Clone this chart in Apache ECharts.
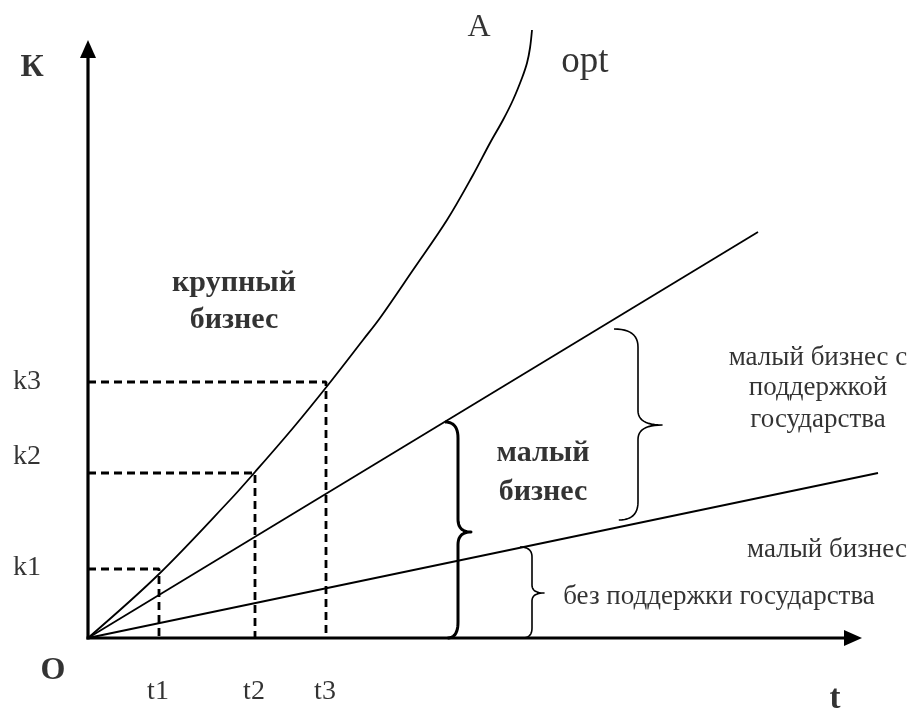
<!DOCTYPE html>
<html><head><meta charset="utf-8">
<script src="https://cdn.jsdelivr.net/npm/echarts/dist/echarts.min.js"></script>
<style>html,body{margin:0;padding:0;background:#fff}#c{width:911px;height:711px}</style>
</head><body><div id="c"></div>
<script>
// Curve A ("opt"): time t vs capital K
const curveT = [0, 70, 142, 167, 205, 240, 275, 292, 325, 359, 385, 402, 415, 425, 434, 439, 442, 444];
const curveK = [0, 63, 138, 166, 210, 253, 298, 320, 368, 418, 463, 495, 518, 538, 560, 575, 590, 608];
// straight lines: small business with / without state support
const supportT = [0, 670];
const supportK = [0, 406];
const noSupportT = [0, 790];
const noSupportK = [0, 165];
// dashed guides
const tTicks = [71, 167, 238];
const kTicks = [69, 165, 256];
const tLabels = ['t1', 't2', 't3'];
const kLabels = ['k1', 'k2', 'k3'];
const kLabelK = [70, 181, 256];
// axes ends
const axisEnds = [[0, 0, 774, 0], [0, 0, 0, 598]];
// braces: [x, top, tip, bottom]
const braces = [[370, 216, 106, 0], [550, 309, 213, 118], [444, 91, 45, 0]];
// annotation texts
const noteText = ['К', 'A', 'opt', 'крупный', 'бизнес', 'O', 't', 'малый', 'бизнес',
  'малый бизнес с', 'поддержкой', 'государства', 'малый бизнес', 'без поддержки государства'];
const noteT = [-56, 391, 497, 146, 146, -35, 747, 455, 455, 730, 730, 730, 739, 631];
const noteK = [570, 610, 576, 355, 318, -33, -61, 185, 146, 280, 250, 218, 88, 41];
const noteBold = [true, false, false, true, true, true, true, true, true, false, false, false, false, false];
const noteSize = [32, 32, 37, 30, 30, 32, 33, 30, 30, 27, 27, 27, 27, 27];

const FONT = 'Liberation Serif';
const braceStyle = [{h: 13, r: 16, w: 3}, {h: 24, r: 18, w: 1.6}, {h: 12, r: 10, w: 1.6}];

function quad(p0, c, p1, n) {
  const pts = [];
  for (let i = 0; i <= n; i++) {
    const s = i / n, a = (1 - s) * (1 - s), b = 2 * (1 - s) * s, d = s * s;
    pts.push([a * p0[0] + b * c[0] + d * p1[0], a * p0[1] + b * c[1] + d * p1[1]]);
  }
  return pts;
}

function axisItem(params, api) {
  const p0 = api.coord([api.value(0), api.value(1)]);
  const p1 = api.coord([api.value(2), api.value(3)]);
  const dx = p1[0] - p0[0], dy = p1[1] - p0[1];
  const L = Math.hypot(dx, dy), ux = dx / L, uy = dy / L;
  const len = 18, hw = 8;
  const base = [p1[0] - ux * len, p1[1] - uy * len];
  return {type: 'group', children: [
    {type: 'line', shape: {x1: p0[0] - ux * 1.5, y1: p0[1] - uy * 1.5, x2: base[0] + ux * 2, y2: base[1] + uy * 2}, style: {stroke: '#000', lineWidth: 3.2}},
    {type: 'polygon', shape: {points: [p1, [base[0] - uy * hw, base[1] + ux * hw], [base[0] + uy * hw, base[1] - ux * hw]]}, style: {fill: '#000'}}
  ]};
}

function braceItem(params, api) {
  const x = api.coord([api.value(0), 0])[0];
  const top = api.coord([0, api.value(1)])[1];
  const tip = api.coord([0, api.value(2)])[1];
  const bot = api.coord([0, api.value(3)])[1];
  const s = braceStyle[params.dataIndex];
  const h = s.h, r = s.r, n = 12;
  let pts = [];
  pts = pts.concat(quad([x - h, top], [x, top], [x, top + r], n));
  pts = pts.concat(quad([x, tip - r * 0.8], [x, tip], [x + h, tip], n));
  pts = pts.concat(quad([x + h, tip], [x, tip], [x, tip + r * 0.8], n));
  pts = pts.concat(quad([x, bot - r], [x, bot], [x - h * 0.8, bot], n));
  return {type: 'polyline', shape: {points: pts}, style: {stroke: '#000', fill: null, lineWidth: s.w, lineJoin: 'round'}};
}

function dashPath(i) {
  return [[0, kTicks[i]], [tTicks[i], kTicks[i]], [tTicks[i], 0]];
}

const series = [];
series.push({type: 'custom', renderItem: axisItem, data: axisEnds, clip: false, silent: true, z: 5});
series.push({type: 'line', data: curveT.map((t, i) => [t, curveK[i]]), smooth: 0.35, symbol: 'none',
  lineStyle: {color: '#000', width: 1.8, join: 'round'}, clip: false, z: 3});
series.push({type: 'line', data: supportT.map((t, i) => [t, supportK[i]]), symbol: 'none',
  lineStyle: {color: '#000', width: 1.8}, clip: false, z: 3});
series.push({type: 'line', data: noSupportT.map((t, i) => [t, noSupportK[i]]), symbol: 'none',
  lineStyle: {color: '#000', width: 1.8}, clip: false, z: 3});
for (let i = 0; i < tTicks.length; i++) {
  series.push({type: 'line', data: dashPath(i), symbol: 'none',
    lineStyle: {color: '#000', width: 2.8, type: [8, 5]}, clip: false, z: 2});
}
series.push({type: 'custom', renderItem: braceItem, data: braces, clip: false, silent: true, z: 4});

const labelData = [];
for (let i = 0; i < tLabels.length; i++) {
  labelData.push({value: [tTicks[i] - 1, -54], label: {formatter: tLabels[i], fontSize: 28}});
  labelData.push({value: [-61, kLabelK[i]], label: {formatter: kLabels[i], fontSize: 28}});
}
for (let i = 0; i < noteText.length; i++) {
  labelData.push({value: [noteT[i], noteK[i]], label: {formatter: noteText[i],
    fontWeight: noteBold[i] ? 'bold' : 'normal', fontSize: noteSize[i]}});
}
series.push({type: 'scatter', data: labelData, symbolSize: 0, clip: false, silent: true, z: 6,
  label: {show: true, position: 'inside', color: '#000', fontFamily: FONT, fontSize: 27,
    align: 'center', verticalAlign: 'middle'}});

const chart = echarts.init(document.getElementById('c'), null, {renderer: 'canvas'});
chart.setOption({
  animation: false,
  backgroundColor: '#fff',
  grid: {left: 88, right: 26, top: 20, bottom: 73},
  xAxis: {type: 'value', min: 0, max: 797, show: false},
  yAxis: {type: 'value', min: 0, max: 618, show: false},
  series: series
});
</script>
</body></html>
